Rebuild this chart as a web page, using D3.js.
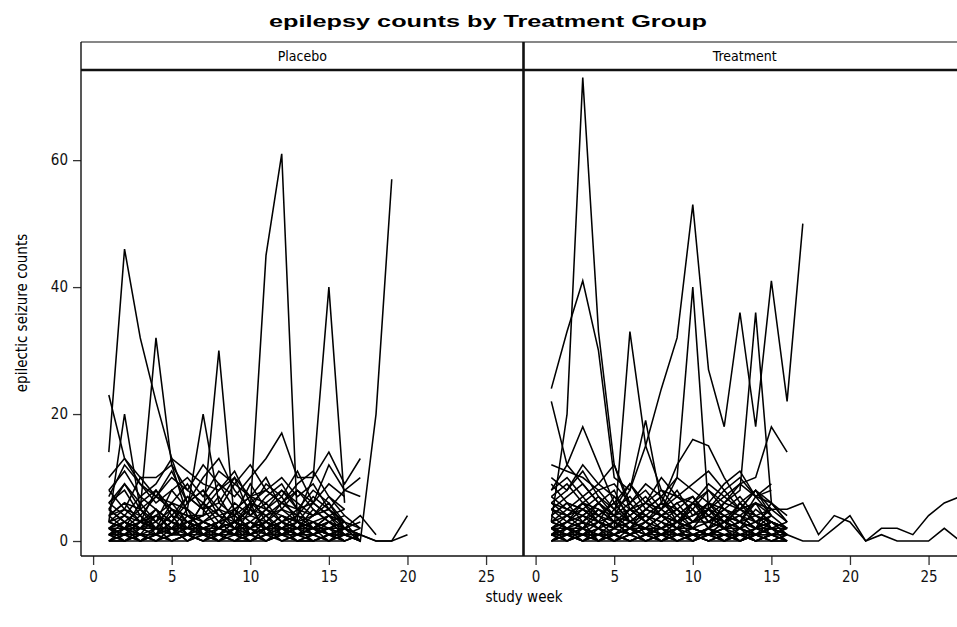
<!DOCTYPE html>
<html><head><meta charset="utf-8">
<script src="https://cdn.jsdelivr.net/npm/d3@7/dist/d3.min.js"></script>
<style>body{margin:0;background:#fff}svg{display:block}</style>
</head><body><svg id="c" width="957" height="627"></svg>
<script>
// ---------- data (weekly counts, index 0 = week 1) ----------
const groups = ["Placebo", "Treatment"];
const xTicks = [0, 5, 10, 15, 20, 25];
const yTicks = [0, 20, 40, 60];
const titleText = "epilepsy counts by Treatment Group";
const xLabel = "study week";
const yLabel = "epilectic seizure counts";

const placebo = [
  [14,46,32,22,13,11,9,8,10,7,6,8,5,6,4,3],
  [5,3,5,32,12,4,3,2,5,3,2,4,3,2,1,2],
  [2,1,3,2,4,1,2,3,1,5,45,61,3,2,4,1],
  [3,4,2,5,3,2,6,4,3,5,2,3,4,10,40,6],
  [1,2,0,1,3,2,1,0,2,1,3,2,1,2,1,2,0,20,57],
  [23,13,9,7,10,8,6,9,5,7,8,6,4,7,5,3],
  [3,20,5,2,4,3,1,2,3,2,4,1,2,3,1,2],
  [4,6,5,3,8,5,20,6,4,9,5,7,3,6,4,5],
  [6,8,4,7,5,4,4,30,3,6,5,8,6,4,7,5],
  [10,13,10,10,12,8,12,9,7,10,13,17,10,10,14,9,13],
  [8,11,7,9,13,6,10,13,8,5,9,7,11,6,12,8,10],
  [7,12,9,6,8,10,7,11,9,12,8,6,9,11,7,4],
  [5,9,6,8,4,7,5,6,10,4,7,9,5,8,6,3],
  [2,3,1,4,2,3,2,1,3,2,4,2,3,1,2,3],
  [1,0,2,1,3,1,0,2,1,1,2,0,1,2,1,0,1],
  [3,5,4,2,6,3,4,5,2,3,5,4,2,3,4,2],
  [0,1,1,0,2,0,1,1,0,1,0,2,1,0,1,1],
  [4,2,6,3,5,4,2,3,6,4,3,5,4,2,3,1],
  [2,4,3,5,1,2,6,3,4,2,5,3,2,4,5,3,0],
  [1,2,2,3,1,4,2,2,1,3,2,1,3,2,2,1],
  [6,4,7,5,3,6,8,4,5,7,3,6,5,4,6,2],
  [0,0,1,0,0,1,0,0,2,0,1,0,0,1,0,0],
  [3,2,4,1,5,2,3,4,2,6,1,3,2,5,3,2,4,1],
  [2,1,3,2,2,5,1,3,4,2,3,2,1,3,1,2,1,0,0,4],
  [5,3,2,4,3,7,5,2,3,4,6,3,5,2,4,3],
  [1,3,2,2,4,1,3,2,5,1,2,4,3,1,2,2,1,0,0,1],
  [4,6,3,8,5,3,4,7,3,5,4,6,8,5,3,4,2],
  [2,2,0,1,2,3,1,2,1,0,2,3,1,1,2,0],
  [1,0,1,2,0,1,1,0,2,1,0,1,1,2,0,1,0],
  [0,1,0,0,1,1,0,1,0,0,1,1,0,0,1,0,1],
  [2,1,2,1,3,2,2,1,2,3,1,2,2,1,3,2,1],
  [1,2,1,0,1,2,1,1,0,2,1,1,2,0,1,1,0],
  [3,2,3,4,2,2,3,2,3,1,3,2,4,3,2,3,2],
  [0,0,0,1,0,0,1,0,0,0,0,1,0,0,0,1,0],
  [2,3,2,2,1,3,2,3,2,2,3,1,2,2,3,1,2],
  [1,1,3,2,2,0,2,1,3,1,2,2,0,1,2,1,1],
  [4,5,3,4,6,5,3,5,4,6,4,5,3,4,5,2,3],
  [0,2,1,1,0,1,2,0,1,1,2,0,1,1,0,2,0],
  [1,1,0,2,1,1,0,1,1,2,0,1,1,0,1,1],
  [2,0,1,1,2,1,3,2,1,0,1,2,1,2,1,0,1],
  [6,9,5,7,11,6,8,5,9,7,10,5,8,6,9,7],
  [8,5,10,7,6,9,5,8,11,6,8,10,7,9,5,8,7]
];

const treatment = [
  [24,33,41,30,10,8,15,24,32,53,27,18,36,18,41,22,50],
  [3,20,73,33,12,5,4,3,2,6,4,3,2,5,3,2],
  [22,12,9,6,4,3,5,4,2,3,5,2,3,4,2,3],
  [5,4,6,3,2,33,15,8,5,3,4,2,6,3,4],
  [4,6,3,5,4,2,3,5,10,40,5,3,4,2,6,3],
  [2,3,5,4,6,3,2,4,3,5,2,6,8,36,6,3],
  [8,12,18,12,6,9,5,7,4,6,8,5,3,7,4,2],
  [6,5,4,6,3,5,7,4,3,6,5,8,5,3,5,5,6,1,4,3,0,2,2,1,4,6,7],
  [2,1,3,0,2,1,2,1,3,2,1,0,2,1,0,1,0,0,2,4,0,1,0,0,0,2,0],
  [7,9,6,8,5,7,4,6,12,16,15,10,6,8,5],
  [3,5,7,4,6,3,5,4,6,3,5,7,9,10,18,14],
  [5,7,9,6,4,8,19,6,5,7,4,6,5,8,4],
  [10,8,12,9,7,5,6,8,7,9,11,8,10,7,9],
  [12,11,10,8,9,6,8,5,7,6,9,7,5,8,6],
  [1,2,0,1,3,1,2,0,1,2,1,1,0,2,1,1],
  [3,4,2,5,3,2,4,3,5,2,3,4,2,3,1],
  [0,1,0,0,1,0,0,1,0,0,1,0,1,0,0,0],
  [2,3,4,2,1,3,2,4,3,1,2,3,4,2,3,2],
  [4,2,3,6,4,5,3,2,4,6,3,5,4,3,2],
  [1,1,2,0,1,2,1,3,1,0,2,1,1,2,1],
  [6,4,5,3,7,4,6,5,3,4,6,3,5,4,3,2],
  [2,0,1,2,0,1,3,1,2,0,1,2,0,1,2,0],
  [5,3,6,4,2,5,3,6,4,2,5,4,3,6,2],
  [3,2,1,3,2,4,1,2,3,2,1,3,2,1,3,1],
  [1,3,2,4,3,1,2,4,2,3,4,2,3,1,2,2],
  [7,5,4,6,8,3,5,4,6,7,3,5,4,6,5],
  [0,2,1,1,0,2,1,0,1,1,0,1,2,0,1,0],
  [4,6,5,3,4,2,5,7,3,4,5,3,6,4,5,3],
  [2,4,3,2,5,3,4,2,3,5,2,4,3,2,4],
  [9,6,5,7,4,6,3,5,8,4,6,5,7,4,3,2],
  [1,0,2,1,1,0,1,2,0,1,1,2,0,1,0,1],
  [1,1,0,1,2,1,0,1,1,2,1,0,1,1,2,1],
  [0,0,1,0,0,0,1,0,0,1,0,0,0,1,0,0],
  [2,1,2,3,1,2,2,1,3,2,1,2,2,1,2,1],
  [1,2,1,1,0,1,2,2,1,1,2,1,0,1,1,2],
  [3,2,4,3,2,3,2,4,2,3,3,2,3,2,3,1],
  [0,1,1,0,1,0,1,1,0,1,0,1,1,0,1,0],
  [2,2,1,2,3,1,2,1,2,2,1,3,1,2,2,1],
  [1,0,1,1,1,2,0,1,2,0,1,1,1,0,1,1],
  [5,4,6,5,3,4,6,4,5,3,6,4,5,6,4],
  [0,1,0,1,0,1,0,0,1,1,0,1,0,1,1,0],
  [8,10,7,9,12,6,9,7,10,8,6,9,11,7,8],
  [6,8,11,7,5,9,6,10,7,5,8,6,9,7,6,4],
  [1,2,2,1,1,0,1,2,1,1,2,0,1,1,2,1],
  [2,1,0,2,1,2,1,0,2,1,1,2,1,0,1,2]
];

// ---------- layout ----------
const FONT = "'Liberation Sans Narrow','DejaVu Sans Condensed','Arial Narrow',sans-serif";
const svg = d3.select("#c");
const stripTop = 42, panelTop = 70, panelBottom = 556;
const panelDefs = [
  {name: groups[0], x0: 81, x1: 523.5, data: placebo},
  {name: groups[1], x0: 523.5, x1: 966, data: treatment}
];
const y = d3.scaleLinear().domain([-2.36, 74.2]).range([panelBottom, panelTop]);

svg.append("text")
  .attr("x", 488).attr("y", 27)
  .attr("text-anchor", "middle")
  .attr("font-family", "'Liberation Sans','DejaVu Sans',sans-serif")
  .attr("font-weight", "bold").attr("font-size", 17)
  .attr("textLength", 438).attr("lengthAdjust", "spacingAndGlyphs")
  .text(titleText);

const defs = svg.append("defs");
panelDefs.forEach((p, i) => {
  p.x = d3.scaleLinear().domain([-0.77, 27.35]).range([p.x0, p.x0 + 442]);
  defs.append("clipPath").attr("id", "clip" + i)
    .append("rect").attr("x", p.x0).attr("y", panelTop)
    .attr("width", p.x1 - p.x0).attr("height", panelBottom - panelTop);

  const line = d3.line().x((d, k) => p.x(k + 1)).y(d => y(d));
  svg.append("g").attr("clip-path", `url(#clip${i})`)
    .selectAll("path").data(p.data).join("path")
    .attr("d", line)
    .attr("fill", "none").attr("stroke", "#000")
    .attr("stroke-width", 1.55).attr("stroke-linejoin", "miter");

  // strip label
  svg.append("text")
    .attr("x", (p.x0 + p.x1) / 2).attr("y", 61)
    .attr("text-anchor", "middle")
    .attr("font-family", FONT).attr("font-size", 14)
    .text(p.name);

  // x axis
  const gx = svg.append("g").attr("transform", `translate(0,${panelBottom})`)
    .call(d3.axisBottom(p.x).tickValues(xTicks).tickSize(9).tickPadding(6));
  gx.select(".domain").remove();
  gx.selectAll("line").attr("stroke", "#333").attr("stroke-width", 1.3);
  gx.selectAll("text").attr("font-family", FONT).attr("font-size", 15).attr("fill", "#111");
});

// y axis
const gy = svg.append("g").attr("transform", "translate(81,0)")
  .call(d3.axisLeft(y).tickValues(yTicks).tickSize(8).tickPadding(5));
gy.select(".domain").remove();
gy.selectAll("line").attr("stroke", "#333").attr("stroke-width", 1.3);
gy.selectAll("text").attr("font-family", FONT).attr("font-size", 15).attr("fill", "#111");

// frames
const fr = svg.append("g").attr("fill", "none").attr("stroke", "#111");
fr.append("line").attr("x1", 81).attr("x2", 960).attr("y1", stripTop).attr("y2", stripTop).attr("stroke-width", 1.2);
fr.append("line").attr("x1", 81).attr("x2", 960).attr("y1", panelTop).attr("y2", panelTop).attr("stroke-width", 2.6);
fr.append("line").attr("x1", 81).attr("x2", 81).attr("y1", stripTop).attr("y2", panelBottom).attr("stroke-width", 1.4);
fr.append("line").attr("x1", 81).attr("x2", 960).attr("y1", panelBottom).attr("y2", panelBottom).attr("stroke-width", 1.4);
fr.append("line").attr("x1", 523.5).attr("x2", 523.5).attr("y1", stripTop).attr("y2", panelBottom).attr("stroke-width", 2.6);

// axis titles
svg.append("text").attr("x", 524).attr("y", 602)
  .attr("text-anchor", "middle").attr("font-family", FONT).attr("font-size", 15)
  .text(xLabel);
svg.append("text").attr("transform", "translate(27,313) rotate(-90)")
  .attr("text-anchor", "middle").attr("font-family", FONT).attr("font-size", 15)
  .text(yLabel);
</script></body></html>
